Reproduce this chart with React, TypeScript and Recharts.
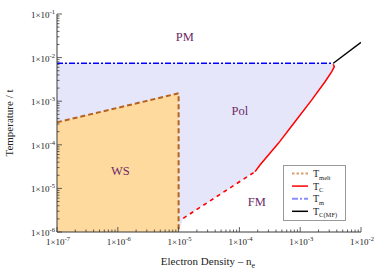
import React from "react";
import {
  ComposedChart,
  Line,
  Area,
  Scatter,
  XAxis,
  YAxis,
  Legend,
  Customized,
} from "recharts";

// ---------------- data (physical values, log-log chart) ----------------
const DENSITY_MIN = 1e-7;
const DENSITY_MAX = 1e-2;
const TEMP_MIN = 1e-6;
const TEMP_MAX = 1e-1;

// Wigner-solid melting line (T_melt) and its vertical edge
const meltDensity = [1e-7, 1e-5, 1e-5];
const meltTemp = [3.28e-4, 1.52e-3, 1e-6];

// T_m (dash-dot) horizontal line
const tmDensity = [1e-7, 3.5e-3];
const tmTemp = 7.4e-3;

// T_C dashed (extrapolated) part
const tcDashedDensity = [1.19e-5, 1.81e-4];
const tcDashedTemp = [2.06e-6, 2.42e-5];

// T_C solid part
const tcDensity = [1.81e-4, 2.18e-4, 4.37e-4, 8.2e-4, 1.55e-3, 2.56e-3, 3.3e-3, 3.64e-3, 3.5e-3];
const tcTemp = [2.42e-5, 3.44e-5, 1.08e-4, 3.39e-4, 1.07e-3, 2.8e-3, 4.75e-3, 6.18e-3, 7.0e-3];

// T_C mean-field line
const mfDensity = [3.5e-3, 1e-2];
const mfTemp = [7.4e-3, 2.24e-2];

const xDecades = [-7, -6, -5, -4, -3, -2];
const yDecades = [-6, -5, -4, -3, -2, -1];

// phase labels, placed at (density, temperature)
const regionNames = ["PM", "Pol", "WS", "FM"];
const regionDensity = [1.27e-5, 1.02e-4, 1.1e-6, 1.93e-4];
const regionTemp = [3.0e-2, 6.0e-4, 2.55e-5, 4.95e-6];

const legendItems = [
  { main: "T", sub: "melt", color: "#D9A070", dash: "2.5 2", width: 2 },
  { main: "T", sub: "C", color: "#FF0000", dash: "", width: 1.5 },
  { main: "T", sub: "m", color: "#8C8CFF", dash: "6 2 2 2", width: 2 },
  { main: "T", sub: "C(MF)", color: "#000000", dash: "", width: 1.5 },
];

// ---------------- helpers ----------------
const L = (v: number) => Math.log10(v);
const pts = (xs: number[], ys: number[]) => xs.map((x, i) => ({ x: L(x), y: L(ys[i]) }));

const minorTicks = (decades: number[]) => {
  const out: number[] = [];
  for (let i = 0; i < decades.length; i++) {
    out.push(decades[i]);
    if (i < decades.length - 1) {
      for (let k = 2; k <= 9; k++) out.push(decades[i] + Math.log10(k));
    }
  }
  return out;
};
const xTicks = minorTicks(xDecades);
const yTicks = minorTicks(yDecades);
const isMajor = (v: number) => Math.abs(v - Math.round(v)) < 1e-9;

const meltLine = pts(meltDensity, meltTemp);
const tmLine = tmDensity.map((x) => ({ x: L(x), y: L(tmTemp) }));
const tcDashed = pts(tcDashedDensity, tcDashedTemp);
const tcSolid = pts(tcDensity, tcTemp);
const mfLine = pts(mfDensity, mfTemp);
const regionPts = regionNames.map((t, i) => ({ x: L(regionDensity[i]), y: L(regionTemp[i]), text: t }));

const wsArea = meltLine.slice(0, 2).map((p) => ({ x: p.x, r: [L(TEMP_MIN), p.y] }));
const polArea = [
  { x: L(DENSITY_MIN), r: [L(TEMP_MIN), L(tmTemp)] },
  { x: L(meltDensity[1]), r: [L(TEMP_MIN), L(tmTemp)] },
  ...tcDashed.map((p) => ({ x: p.x, r: [p.y, L(tmTemp)] })),
  ...tcSolid.slice(1).map((p) => ({ x: p.x, r: [p.y, L(tmTemp)] })),
];

const FONT = "'Liberation Serif', 'DejaVu Serif', serif";
const AXIS = "#3a3a3a";
const LABEL_COLOR = "#6E2A68";

const Exp = ({ x, y, anchor, v }: { x: number; y: number; anchor: string; v: number }) => (
  <text x={x} y={y} textAnchor={anchor} fontSize={9} fontFamily={FONT} fill="#222">
    1×10
    <tspan dy={-4} fontSize={6.5}>
      {Math.round(v)}
    </tspan>
  </text>
);

const BottomTick = (props: any) => {
  const { x, y, payload } = props;
  const major = isMajor(payload.value);
  return (
    <g>
      <line x1={x} x2={x} y1={y} y2={y - (major ? 5 : 2.5)} stroke={AXIS} strokeWidth={0.8} />
      {major && <Exp x={x + 1} y={y + 13} anchor="middle" v={payload.value} />}
    </g>
  );
};
const TopTick = (props: any) => {
  const { x, y, payload } = props;
  const major = isMajor(payload.value);
  return <line x1={x} x2={x} y1={y} y2={y + (major ? 5 : 2.5)} stroke={AXIS} strokeWidth={0.8} />;
};
const LeftTick = (props: any) => {
  const { x, y, payload } = props;
  const major = isMajor(payload.value);
  return (
    <g>
      <line x1={x} x2={x + (major ? 5 : 2.5)} y1={y} y2={y} stroke={AXIS} strokeWidth={0.8} />
      {major && <Exp x={x - 2} y={y + 4} anchor="end" v={payload.value} />}
    </g>
  );
};
const RightTick = (props: any) => {
  const { x, y, payload } = props;
  const major = isMajor(payload.value);
  return <line x1={x} x2={x - (major ? 5 : 2.5)} y1={y} y2={y} stroke={AXIS} strokeWidth={0.8} />;
};

const RegionLabel = (props: any) => {
  const { cx, cy, payload } = props;
  return (
    <text
      x={cx}
      y={cy}
      textAnchor="middle"
      dominantBaseline="central"
      fontSize={12.5}
      fontFamily={FONT}
      fill={LABEL_COLOR}
    >
      {payload.text}
    </text>
  );
};

const Titles = () => (
  <g fontFamily={FONT}>
    <text
      x={13}
      y={123}
      transform="rotate(-90 13 123)"
      textAnchor="middle"
      fontSize={11}
      fill="#222"
    >
      Temperature / t
    </text>
    <text x={208} y={265} textAnchor="middle" fontSize={11} fill="#222">
      Electron Density – n
      <tspan dy={3} fontSize={8}>
        e
      </tspan>
    </text>
  </g>
);

const LegendBox = () => (
  <svg width={63} height={56} style={{ display: "block" }}>
    <rect x={0.5} y={0.5} width={62} height={55} fill="#fff" stroke="#999" strokeWidth={1} />
    {legendItems.map((it, i) => {
      const cy = 8.5 + i * 12.6;
      return (
        <g key={i}>
          <line
            x1={9}
            x2={25}
            y1={cy}
            y2={cy}
            stroke={it.color}
            strokeWidth={it.width}
            strokeDasharray={it.dash || undefined}
          />
          <text x={30} y={cy + 3.5} fontSize={10} fontFamily={FONT} fill="#222">
            {it.main}
            <tspan dy={2.5} fontSize={6.5}>
              {it.sub}
            </tspan>
          </text>
        </g>
      );
    })}
  </svg>
);

export default function App() {
  return (
    <div style={{ position: "absolute", left: 0, top: 0, width: 374, height: 279, background: "#fff" }}>
      <ComposedChart
        width={374}
        height={279}
        margin={{ top: 14, right: 13, bottom: 17, left: 7 }}
      >
        <XAxis
          dataKey="x"
          type="number"
          domain={[L(DENSITY_MIN), L(DENSITY_MAX)]}
          ticks={xTicks}
          interval={0}
          allowDataOverflow
          height={30}
          tickSize={0}
          tickMargin={0}
          tickLine={false}
          tick={<BottomTick />}
          axisLine={{ stroke: AXIS, strokeWidth: 1 }}
        />
        <XAxis
          xAxisId="top"
          orientation="top"
          dataKey="x"
          type="number"
          domain={[L(DENSITY_MIN), L(DENSITY_MAX)]}
          ticks={xTicks}
          interval={0}
          allowDataOverflow
          height={0}
          tickSize={0}
          tickMargin={0}
          tickLine={false}
          tick={<TopTick />}
          axisLine={{ stroke: AXIS, strokeWidth: 1 }}
        />
        <YAxis
          dataKey="y"
          type="number"
          domain={[L(TEMP_MIN), L(TEMP_MAX)]}
          ticks={yTicks}
          interval={0}
          allowDataOverflow
          width={50}
          tickSize={0}
          tickMargin={0}
          tickLine={false}
          tick={<LeftTick />}
          axisLine={{ stroke: AXIS, strokeWidth: 1 }}
        />
        <YAxis
          yAxisId="right"
          orientation="right"
          dataKey="y"
          type="number"
          domain={[L(TEMP_MIN), L(TEMP_MAX)]}
          ticks={yTicks}
          interval={0}
          allowDataOverflow
          width={0}
          tickSize={0}
          tickMargin={0}
          tickLine={false}
          tick={<RightTick />}
          axisLine={{ stroke: AXIS, strokeWidth: 1 }}
        />
        <Area
          data={polArea}
          dataKey="r"
          type="linear"
          fill="#E6E6FA"
          fillOpacity={1}
          stroke="none"
          isAnimationActive={false}
        />
        <Area
          data={wsArea}
          dataKey="r"
          type="linear"
          fill="#FFDA9E"
          fillOpacity={1}
          stroke="none"
          isAnimationActive={false}
        />
        <Line
          data={tmLine}
          dataKey="y"
          type="linear"
          stroke="#0000FF"
          strokeWidth={1.6}
          strokeDasharray="6 2 2 2"
          dot={false}
          isAnimationActive={false}
        />
        <Line
          data={meltLine}
          dataKey="y"
          type="linear"
          stroke="#B5621E"
          strokeWidth={2}
          strokeDasharray="5 3"
          dot={false}
          isAnimationActive={false}
        />
        <Line
          data={tcDashed}
          dataKey="y"
          type="linear"
          stroke="#FF0000"
          strokeWidth={1.6}
          strokeDasharray="4 4"
          dot={false}
          isAnimationActive={false}
        />
        <Line
          data={tcSolid}
          dataKey="y"
          type="linear"
          stroke="#FF0000"
          strokeWidth={1.5}
          dot={false}
          isAnimationActive={false}
        />
        <Line
          data={mfLine}
          dataKey="y"
          type="linear"
          stroke="#000000"
          strokeWidth={1.4}
          dot={false}
          isAnimationActive={false}
        />
        <Scatter
          data={regionPts}
          dataKey="y"
          shape={<RegionLabel />}
          isAnimationActive={false}
        />
        <Customized component={Titles} />
        <Legend
          layout="horizontal"
          verticalAlign="middle"
          align="center"
          content={() => <LegendBox />}
          wrapperStyle={{ left: 283, top: 165, width: 63, height: 56 }}
        />
      </ComposedChart>
    </div>
  );
}
